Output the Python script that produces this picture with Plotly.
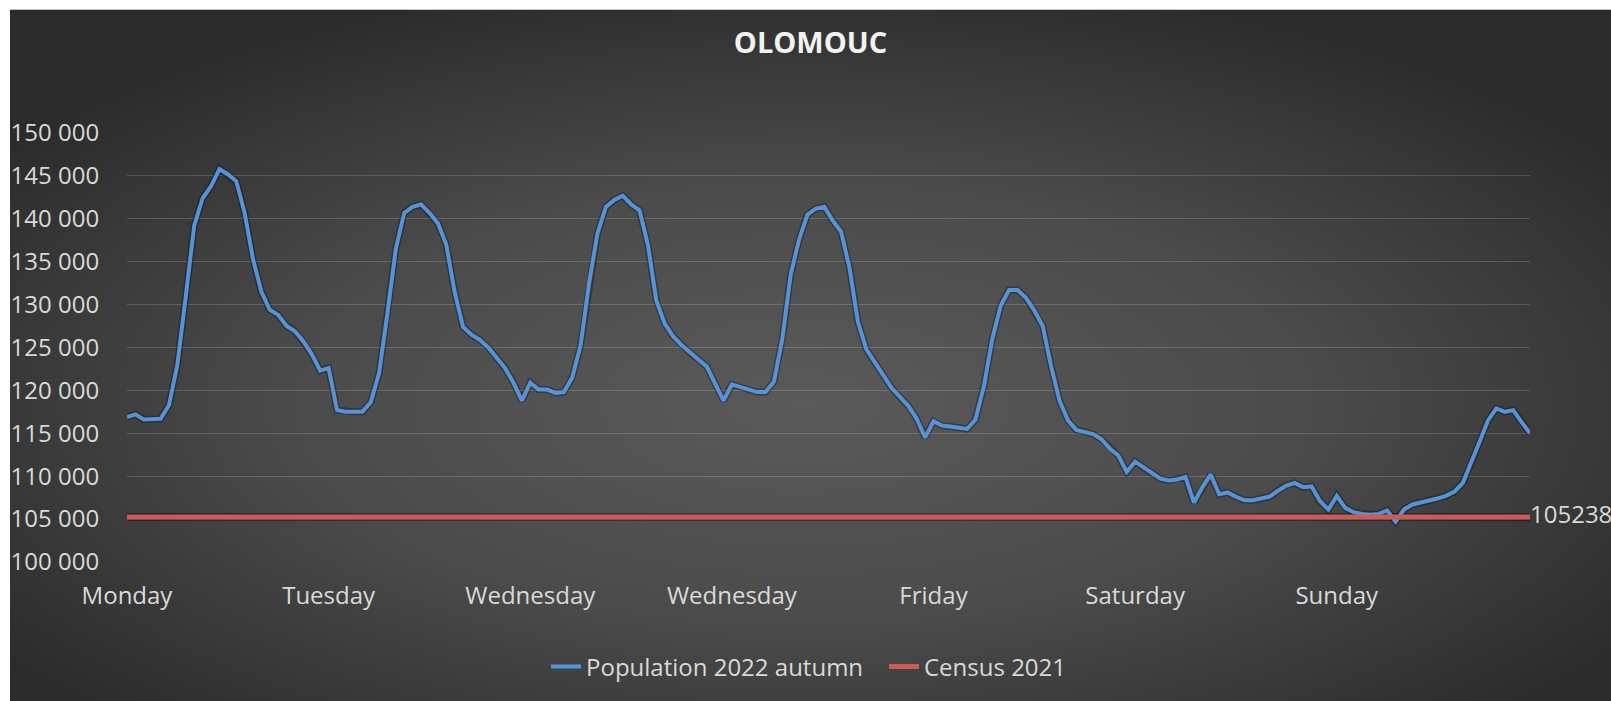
import base64
import plotly.graph_objects as go

# hourly population estimate, one week (Monday 00:00 .. Sunday 23:00)
population_2022 = [
    116900, 117200, 116600, 116600, 116700, 118300, 123000, 131000, 139200, 142400, 143800, 145800,
    145200, 144400, 140700, 135300, 131500, 129400, 128800, 127500, 126900, 125700, 124200, 122300,
    122600, 117700, 117500, 117500, 117500, 118600, 122000, 129000, 136500, 140700, 141400, 141700,
    140700, 139500, 137000, 131500, 127400, 126500, 125900, 125000, 123800, 122600, 120900, 118800,
    120900, 120100, 120100, 119700, 119800, 121500, 125300, 132500, 138300, 141400, 142200, 142700,
    141700, 141000, 137000, 130500, 127800, 126300, 125300, 124400, 123600, 122800, 120800, 118800,
    120700, 120400, 120100, 119800, 119800, 121000, 126000, 133500, 137600, 140500, 141200, 141400,
    139800, 138500, 134300, 128000, 124800, 123200, 121800, 120300, 119200, 118200, 116700, 114500,
    116400, 115900, 115800, 115700, 115500, 116600, 120500, 126000, 129900, 131700, 131700, 130800,
    129300, 127500, 122800, 118800, 116500, 115400, 115200, 114900, 114300, 113200, 112400, 110500,
    111700, 111000, 110400, 109700, 109500, 109600, 109900, 106900, 108700, 110200, 107900, 108100,
    107600, 107200, 107200, 107400, 107600, 108300, 108900, 109200, 108700, 108800, 107100, 106100,
    107700, 106300, 105800, 105600, 105500, 105600, 106000, 104700, 106100, 106700, 106900, 107100,
    107400, 107700, 108200, 109200, 111500, 114000, 116500, 117900, 117500, 117700, 116300, 115000,
]
census_2021 = 105238

hours = list(range(len(population_2022)))
day_ticks = [0, 24, 48, 72, 96, 120, 144]
day_labels = ["Monday", "Tuesday", "Wednesday", "Wednesday", "Friday", "Saturday", "Sunday"]
y_ticks = list(range(100000, 150001, 5000))

W, H = 1611, 701
L, R, T, B = 127, 81, 133, 134
PW, PH = W - L - R, H - T - B

FONT = "Open Sans"
TXT = "#d9d9d9"
BLUE = "#5693d8"
RED = "#cc5b56"

# dark radial background like the Excel style
bg_w, bg_h = W - 10 + 20, H - 8 + 20
svg = (
    f'<svg xmlns="http://www.w3.org/2000/svg" width="{bg_w}" height="{bg_h}" '
    f'viewBox="0 0 {bg_w} {bg_h}" preserveAspectRatio="none">'
    '<defs><radialGradient id="g" cx="0.49" cy="0.56" r="0.62">'
    '<stop offset="0" stop-color="#5a5a5a"/>'
    '<stop offset="0.5" stop-color="#4b4b4b"/>'
    '<stop offset="1" stop-color="#2b2b2b"/>'
    '</radialGradient></defs>'
    f'<rect width="{bg_w}" height="{bg_h}" fill="url(#g)"/></svg>'
)
bg_src = "data:image/svg+xml;base64," + base64.b64encode(svg.encode()).decode()

fig = go.Figure()

# soft dark edge under the lines
fig.add_trace(go.Scatter(x=hours, y=[census_2021] * len(hours), mode="lines",
                         line=dict(color="rgba(0,0,0,0.35)", width=8),
                         showlegend=False, hoverinfo="skip"))
fig.add_trace(go.Scatter(x=hours, y=population_2022, mode="lines",
                         line=dict(color="rgba(0,0,0,0.3)", width=7),
                         showlegend=False, hoverinfo="skip"))

fig.add_trace(go.Scatter(x=hours, y=population_2022, mode="lines",
                         name="Population 2022 autumn",
                         line=dict(color=BLUE, width=4)))

census_text = [""] * (len(hours) - 1) + [str(census_2021)]
fig.add_trace(go.Scatter(x=hours, y=[census_2021] * len(hours), mode="lines+text",
                         name="Census 2021", text=census_text,
                         textposition="middle right", cliponaxis=False,
                         textfont=dict(family=FONT, size=24, color=TXT),
                         line=dict(color=RED, width=5)))

fig.update_layout(
    width=W, height=H,
    margin=dict(l=L, r=R, t=T, b=B),
    paper_bgcolor="white",
    plot_bgcolor="rgba(0,0,0,0)",
    separators=". ",
    font=dict(family=FONT, size=24, color=TXT),
    title=dict(text="<b>OLOMOUC</b>", x=810.5 / W, xref="container", xanchor="center",
               y=1 - 43 / H, yref="container", yanchor="middle",
               font=dict(family=FONT, size=29, color="#f2f2f2")),
    images=[dict(source=bg_src, xref="paper", yref="paper",
                 x=(10 - L) / PW, y=(H - B - 8) / PH,
                 sizex=bg_w / PW, sizey=bg_h / PH,
                 xanchor="left", yanchor="top", sizing="stretch", layer="below")],
    legend=dict(orientation="h", x=(546 - L) / PW, xanchor="left",
                y=(H - B - 673) / PH, yanchor="middle",
                bgcolor="rgba(0,0,0,0)", font=dict(family=FONT, size=24, color=TXT),
                entrywidth=293, itemwidth=30),
    showlegend=True,
)

fig.update_xaxes(range=[0, len(hours) - 1], tickvals=day_ticks, ticktext=day_labels,
                 showgrid=False, zeroline=False, showline=False,
                 ticks="outside", ticklen=12, tickcolor="rgba(0,0,0,0)",
                 tickfont=dict(family=FONT, size=24, color=TXT))
fig.update_yaxes(range=[99990, 150010], tickvals=y_ticks, tickformat=",d",
                 showgrid=True, gridcolor="rgba(255,255,255,0.17)", gridwidth=1,
                 zeroline=False, showline=False,
                 ticks="outside", ticklen=22, tickcolor="rgba(0,0,0,0)",
                 tickfont=dict(family=FONT, size=24, color=TXT))

fig.write_html("out.html", config={"displayModeBar": False},
               post_script="document.body.style.margin='0';")
